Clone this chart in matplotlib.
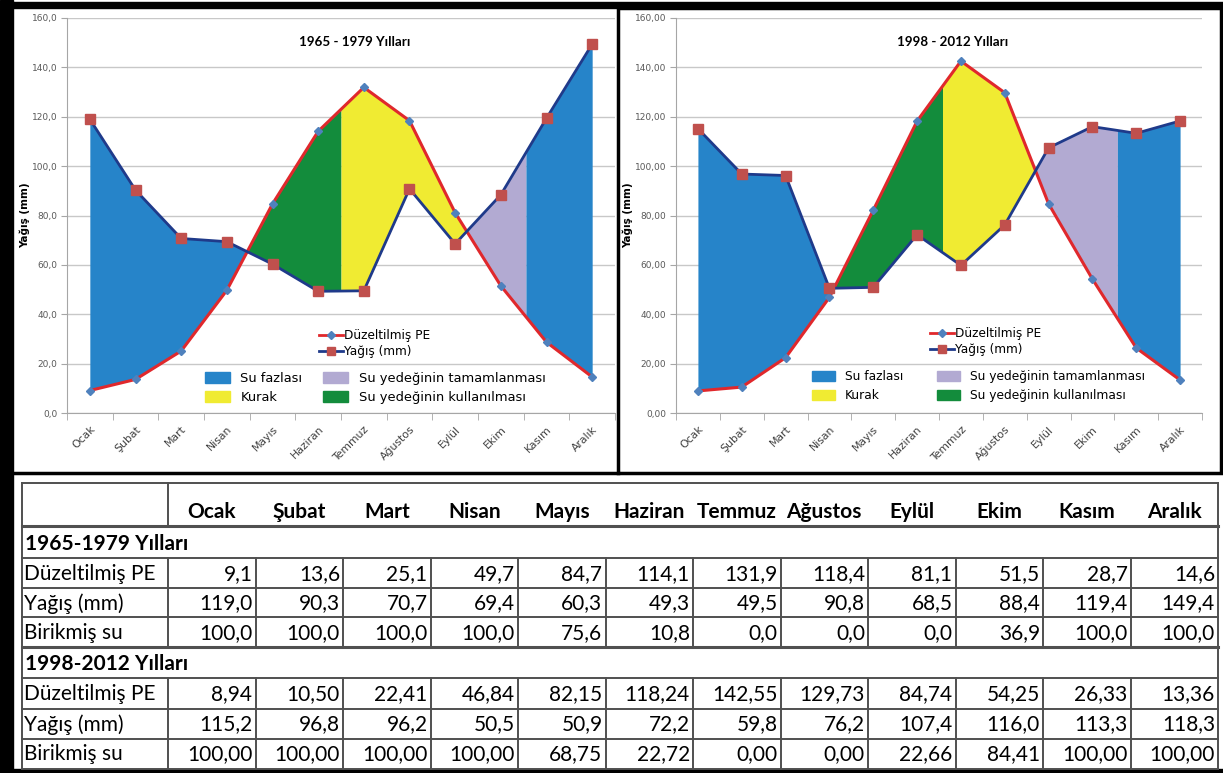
"""Düzeltilmiş PE ve yağış grafikleri (1965-1979 ve 1998-2012) ile
altındaki su bilançosu tablosu"""

import numpy as np
import matplotlib.pyplot as plt
from matplotlib.lines import Line2D
from matplotlib.patches import Patch, Rectangle

AYLAR = ['Ocak', 'Şubat', 'Mart', 'Nisan', 'Mayıs', 'Haziran', 'Temmuz',
         'Ağustos', 'Eylül', 'Ekim', 'Kasım', 'Aralık']

PE_1965 = [9.1, 13.6, 25.1, 49.7, 84.7, 114.1, 131.9, 118.4, 81.1, 51.5, 28.7, 14.6]
YAGIS_1965 = [119.0, 90.3, 70.7, 69.4, 60.3, 49.3, 49.5, 90.8, 68.5, 88.4, 119.4, 149.4]
BIRIKMIS_1965 = [100.0, 100.0, 100.0, 100.0, 75.6, 10.8, 0.0, 0.0, 0.0, 36.9, 100.0, 100.0]

PE_1998 = [8.94, 10.50, 22.41, 46.84, 82.15, 118.24, 142.55, 129.73, 84.74, 54.25, 26.33, 13.36]
YAGIS_1998 = [115.2, 96.8, 96.2, 50.5, 50.9, 72.2, 59.8, 76.2, 107.4, 116.0, 113.3, 118.3]
BIRIKMIS_1998 = [100.00, 100.00, 100.00, 100.00, 68.75, 22.72, 0.00, 0.00, 22.66, 84.41, 100.00, 100.00]

# yedek kullaniminin bittigi / yedegin tamamlandigi yer (ay indeksi)
KULLANIM_SONU_1965 = 5.5
TAMAMLANMA_SONU_1965 = 9.55
KULLANIM_SONU_1998 = 5.58
TAMAMLANMA_SONU_1998 = 9.57

MAVI = '#2684c9'
SARI = '#f0eb32'
YESIL = '#138c3c'
MOR = '#b2aad2'
KIRMIZI = '#e0282c'
LACIVERT = '#1f3a8a'
MARKER_MAVI = '#4f81bd'
MARKER_KIRMIZI = '#c0504d'

W, H = 1223, 773


def kesisimler(pe, p):
    """PE ile yagis egrilerinin kesistigi x degerleri"""
    d = np.array(p) - np.array(pe)
    out = []
    for i in range(len(d) - 1):
        if d[i] * d[i + 1] < 0:
            out.append(i + d[i] / (d[i] - d[i + 1]))
    return out


def bolge(ax, x0, x1, pe, p, renk):
    idx = np.arange(len(pe))
    xs = np.union1d(np.linspace(x0, x1, 300), idx[(idx > x0) & (idx < x1)])
    ax.fill_between(xs, np.interp(xs, idx, pe), np.interp(xs, idx, p),
                    color=renk, lw=0, zorder=1)


def grafik(ax, pe, p, kullanim_sonu, tamamlanma_sonu, baslik, ondalik,
           cizgi_leg, alan_leg):
    x = np.arange(len(AYLAR))
    c1, c2 = kesisimler(pe, p)
    bolge(ax, 0, c1, pe, p, MAVI)
    bolge(ax, c1, kullanim_sonu, pe, p, YESIL)
    bolge(ax, kullanim_sonu, c2, pe, p, SARI)
    bolge(ax, c2, tamamlanma_sonu, pe, p, MOR)
    bolge(ax, tamamlanma_sonu, len(pe) - 1, pe, p, MAVI)

    ax.plot(x, pe, color=KIRMIZI, lw=2.2, marker='D', ms=4.5,
            mfc=MARKER_MAVI, mec=MARKER_MAVI, zorder=3)
    ax.plot(x, p, color=LACIVERT, lw=2, marker='s', ms=6.5,
            mfc=MARKER_KIRMIZI, mec=MARKER_KIRMIZI, zorder=4)

    ax.set_xlim(-0.5, 11.5)
    ax.set_ylim(0, 160)
    ax.set_yticks(np.arange(0, 161, 20))
    ax.set_yticklabels([f'{v:.{ondalik}f}'.replace('.', ',') for v in range(0, 161, 20)],
                       fontsize=6.5, color='#595959')
    ax.set_xticks(x)
    ax.set_xticklabels(AYLAR, rotation=45, ha='right', rotation_mode='anchor',
                       fontsize=7.8, color='#404040')
    ax.set_xticks(np.arange(-0.5, 12, 1), minor=True)
    ax.tick_params(axis='x', which='major', length=0, pad=8)
    ax.tick_params(axis='x', which='minor', length=5, color='#a6a6a6')
    ax.tick_params(axis='y', length=4, color='#a6a6a6', pad=3)
    ax.grid(axis='y', color='#c8c8c8', lw=1)
    ax.set_axisbelow(True)
    for s in ['top', 'right']:
        ax.spines[s].set_visible(False)
    for s in ['left', 'bottom']:
        ax.spines[s].set_color('#a6a6a6')
    ax.set_ylabel('Yağış (mm)', fontsize=7.5, fontweight='bold', labelpad=1)
    ax.text(0.525, 0.94, baslik, transform=ax.transAxes, ha='center', va='center',
            fontsize=9.6, fontweight='bold', family='Lato')

    h1 = [Line2D([], [], color=KIRMIZI, lw=2, marker='D', ms=4, mfc=MARKER_MAVI, mec=MARKER_MAVI),
          Line2D([], [], color=LACIVERT, lw=2, marker='s', ms=5.5, mfc=MARKER_KIRMIZI, mec=MARKER_KIRMIZI)]
    leg1 = ax.legend(h1, ['Düzeltilmiş PE', 'Yağış (mm)'], loc='center left',
                     bbox_to_anchor=cizgi_leg, frameon=False, fontsize=8.7,
                     handlelength=2.0, handletextpad=0.1, labelspacing=0.25,
                     borderpad=0, borderaxespad=0)
    ax.add_artist(leg1)
    h2 = [Patch(color=MAVI), Patch(color=SARI), Patch(color=MOR), Patch(color=YESIL)]
    ax.legend(h2, ['Su fazlası', 'Kurak', 'Su yedeğinin tamamlanması',
                   'Su yedeğinin kullanılması'], ncol=2, loc='center left',
              bbox_to_anchor=alan_leg[:2], frameon=False, fontsize=alan_leg[3],
              handlelength=1.9, handleheight=0.9, handletextpad=0.8,
              columnspacing=alan_leg[2], labelspacing=0.45, borderpad=0, borderaxespad=0)


def fmt(v, d):
    return f'{v:.{d}f}'.replace('.', ',')


def tablo(ax):
    x0 = 168
    sol, sag = 22, 1218
    cw = 87.5
    ys = [483, 526, 558, 587.5, 617, 647, 678, 708.5, 738.5, 768.5]
    lc = '#505050'
    for i, y in enumerate(ys):
        lw = 2.2 if i in (1, 5) else 1.4
        ax.plot([sol, sag], [y, y], color=lc, lw=lw)
    ax.plot([sol, sol], [ys[0], ys[-1]], color=lc, lw=1.4)
    ax.plot([sag, sag], [ys[0], ys[-1]], color=lc, lw=1.4)
    ax.plot([x0, x0], [ys[0], ys[1]], color=lc, lw=1.4)
    for k in range(12):
        xv = x0 + k * cw
        ax.plot([xv, xv], [ys[2], ys[5]], color=lc, lw=1.4)
        ax.plot([xv, xv], [ys[6], ys[9]], color=lc, lw=1.4)

    fs = 15
    for k, ay in enumerate(AYLAR):
        ax.text(x0 + (k + 0.5) * cw, 512, ay, ha='center', va='center',
                fontsize=fs, fontweight='bold', family='Lato')
    ax.text(25, 544, '1965-1979 Yılları', ha='left', va='center', fontsize=fs,
            fontweight='bold', family='Lato')
    ax.text(25, 664, '1998-2012 Yılları', ha='left', va='center', fontsize=fs,
            fontweight='bold', family='Lato')

    satirlar = [
        ('Düzeltilmiş PE', PE_1965, 1, 2), ('Yağış (mm)', YAGIS_1965, 1, 3),
        ('Birikmiş su', BIRIKMIS_1965, 1, 4),
        ('Düzeltilmiş PE', PE_1998, 2, 6), ('Yağış (mm)', YAGIS_1998, 1, 7),
        ('Birikmiş su', BIRIKMIS_1998, 2, 8),
    ]
    for ad, vals, d, r in satirlar:
        yc = (ys[r] + ys[r + 1]) / 2 + 1
        ax.text(24, yc, ad, ha='left', va='center', fontsize=fs, family='Lato')
        for k, v in enumerate(vals):
            ax.text(x0 + (k + 1) * cw - 3, yc, fmt(v, d), ha='right', va='center',
                    fontsize=fs, family='Lato')


def main():
    fig = plt.figure(figsize=(W / 100, H / 100), dpi=100)
    arka = fig.add_axes([0, 0, 1, 1])
    arka.set_xlim(0, W)
    arka.set_ylim(H, 0)
    arka.axis('off')

    # siyah cerceveler
    arka.add_patch(Rectangle((0, 0), 13, H, color='black'))
    arka.add_patch(Rectangle((0, 2), W, 6, color='black'))
    arka.add_patch(Rectangle((0, 769), W, 4, color='black'))
    arka.plot([13, 618], [473, 473], color='black', lw=2.5)
    arka.add_patch(Rectangle((618, 8), 603, 465, fill=False, ec='black', lw=2.5))
    tablo(arka)

    ax1 = fig.add_axes([67 / W, 1 - 413 / H, 548 / W, 395 / H])
    grafik(ax1, PE_1965, YAGIS_1965, KULLANIM_SONU_1965, TAMAMLANMA_SONU_1965,
           '1965 - 1979 Yılları', 1, (0.46, 0.176), (0.252, 0.063, 1.6, 9.4))
    ax2 = fig.add_axes([676 / W, 1 - 413 / H, 526 / W, 395 / H])
    grafik(ax2, PE_1998, YAGIS_1998, KULLANIM_SONU_1998, TAMAMLANMA_SONU_1998,
           '1998 - 2012 Yılları', 2, (0.483, 0.18), (0.258, 0.068, 2.8, 8.8))

    fig.savefig('out.png', dpi=100)


if __name__ == "__main__":
    main()
